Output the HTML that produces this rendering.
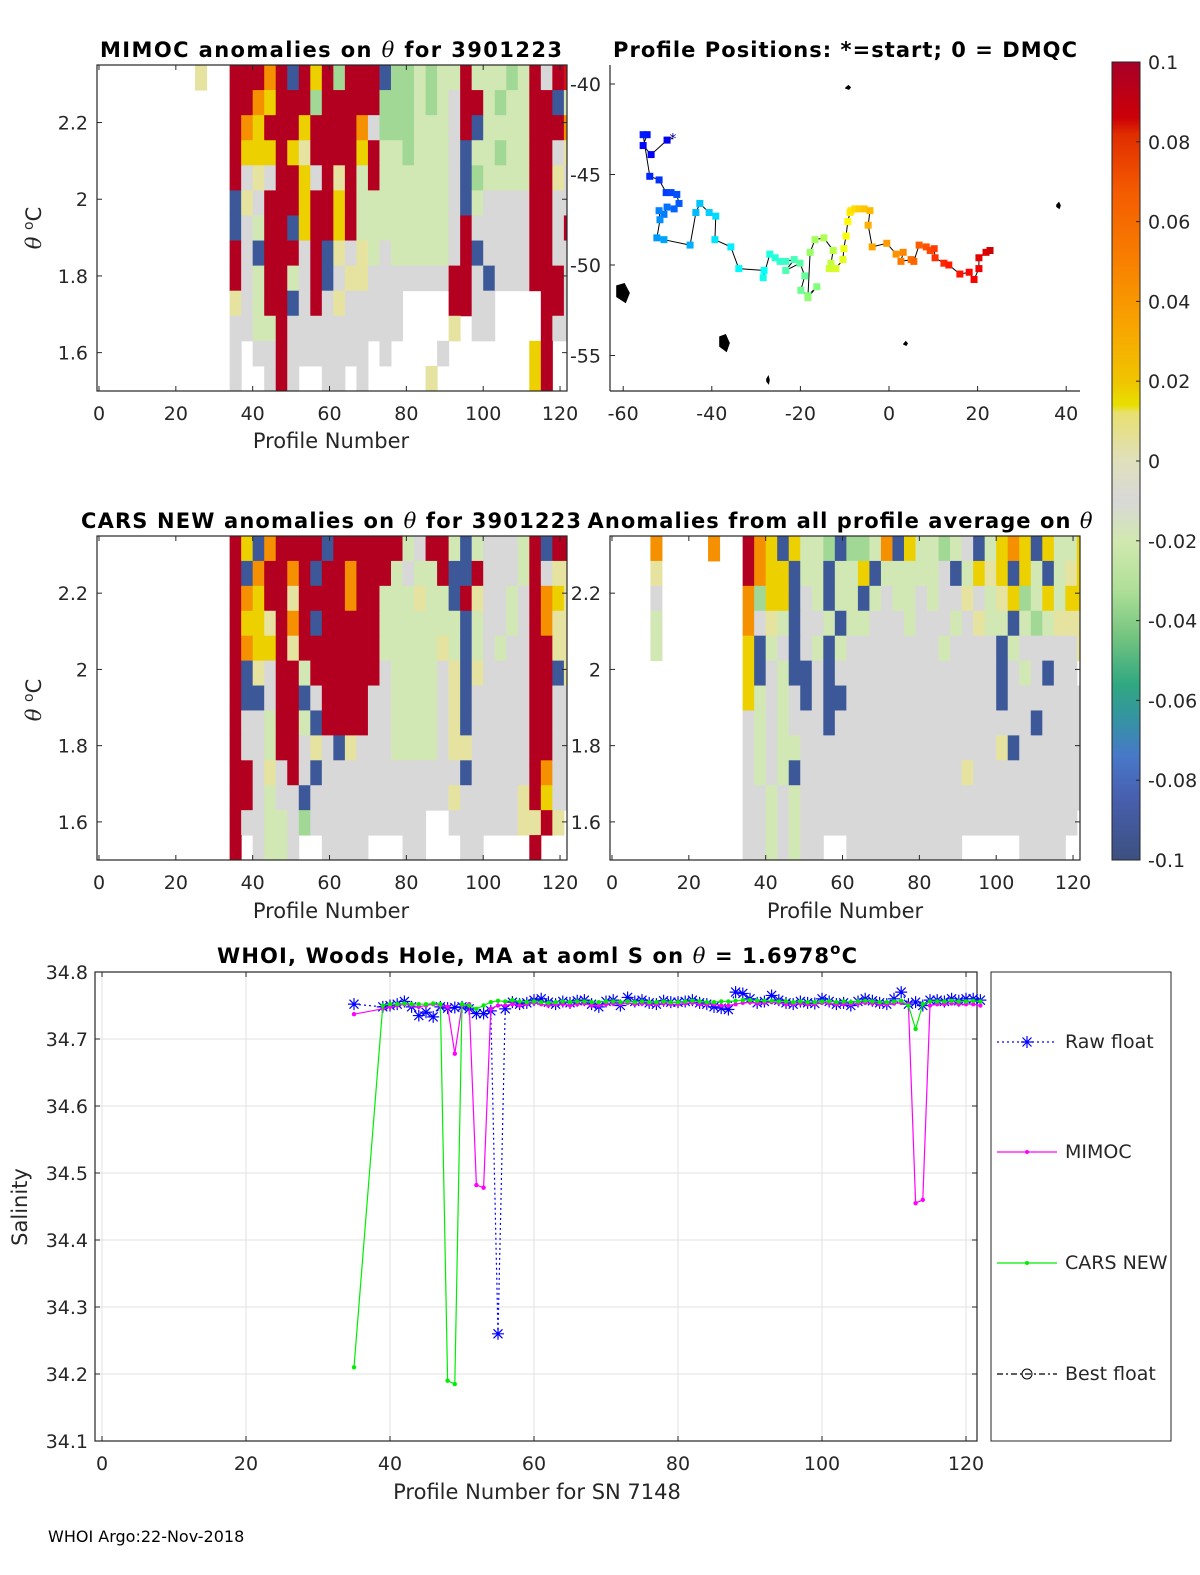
<!DOCTYPE html>
<html><head><meta charset="utf-8">
<style>
html,body{margin:0;padding:0;background:#fff;}
svg{display:block;font-family:"DejaVu Sans","Liberation Sans",sans-serif;}
.tl{font-size:19px;fill:#262626;}
.ttl{font-size:21px;font-weight:bold;fill:#000;}
.lbl{font-size:21px;fill:#262626;}
.th{font-family:"DejaVu Serif","Liberation Serif",serif;font-style:italic;}
</style></head>
<body>
<svg id="fig" width="1200" height="1575" viewBox="0 0 1200 1575" xmlns="http://www.w3.org/2000/svg">
<g id="p1"></g>
<g id="p2"></g>
<g id="p3"></g>
<g id="p4"></g>
<g id="cb"></g>
<g id="p5"></g>

<text class="ttl" x="331" y="57" text-anchor="middle" textLength="462">MIMOC anomalies on <tspan class="th" font-weight="normal">θ</tspan>  for 3901223</text>
<text class="ttl" x="845" y="57" text-anchor="middle" textLength="464">Profile Positions: *=start; 0 = DMQC</text>
<text class="ttl" x="331" y="528" text-anchor="middle" textLength="500">CARS NEW anomalies on <tspan class="th" font-weight="normal">θ</tspan> for 3901223</text>
<text class="ttl" x="840" y="528" text-anchor="middle" textLength="505">Anomalies from all profile average on <tspan class="th" font-weight="normal">θ</tspan></text>
<text class="lbl" x="331" y="448" text-anchor="middle">Profile Number</text>
<text class="lbl" x="331" y="918" text-anchor="middle">Profile Number</text>
<text class="lbl" x="845" y="918" text-anchor="middle">Profile Number</text>
<text class="lbl" transform="translate(41,228) rotate(-90)" text-anchor="middle"><tspan class="th">θ</tspan> <tspan dy="-8" font-size="14">o</tspan><tspan dy="8">C</tspan></text>
<text class="lbl" transform="translate(41,700) rotate(-90)" text-anchor="middle"><tspan class="th">θ</tspan> <tspan dy="-8" font-size="14">o</tspan><tspan dy="8">C</tspan></text>
<text class="ttl" x="537" y="963" text-anchor="middle" textLength="640">WHOI, Woods Hole, MA at aoml S on <tspan class="th" font-weight="normal">θ</tspan> = 1.6978<tspan dy="-9" font-size="15">o</tspan><tspan dy="9">C</tspan></text>
<text class="lbl" x="537" y="1499" text-anchor="middle">Profile Number for SN 7148</text>
<text class="lbl" transform="translate(27,1207) rotate(-90)" text-anchor="middle">Salinity</text>
<text x="48" y="1542" font-size="16" fill="#000">WHOI Argo:22-Nov-2018</text>
</svg>
<script>
// ---------- data ----------
const xTicks = [0,20,40,60,80,100,120];
const thetaTicks = [2.2,2.0,1.8,1.6];
const mapLonTicks = [-60,-40,-20,0,20,40];
const mapLatTicks = [-40,-45,-50,-55];
const cbTicks = [0.1,0.08,0.06,0.04,0.02,0,-0.02,-0.04,-0.06,-0.08,-0.1];
const salTicks = [34.8,34.7,34.6,34.5,34.4,34.3,34.2,34.1];
// anomaly grids: 41 columns (3 profiles each), 13 theta rows from 2.35 down to 1.5
const mimocGrid = [
"........p..RRRoRbRyRGRRRbGGlGllRlllGlRgRr",
"...........RRoyRRRGRRRRRGGGlGlgRRlGllRRbl",
"...........RoyRRRyRRRRogGGGlllgRbllllRRRo",
"...........RyyyRypRRRRyRllGlllgbllGllRRgp",
"...........RgpgRRygRpRlRllllllgbGllllRRpg",
"...........bpgRRRyRRyRllllllllgblggggRRgg",
"...........bglRRbyRRyRllllllllgRgggggRRgR",
"...........RgbRRRgRbpgplglllllgRbggggRRgg",
"...........RglRRlgRbgppgggggggRRgbgggRRRg",
"...........pglRRbgRgpggggg....RRgg....RRgg",
"...........ggllRgggggggggg....p.gg....Rggg",
"...........g.ggRggggggg.g....g.......yR..",
"...........g..gRg..gg.g.....p........yR.."];
const carsGrid = [
"...........RyboRRRRbRRRRRRlgRRlblggglRbRR",
"...........RboRRoRbRRoRRRlgllRbbRggglRgpp",
"...........RoyRRpRRRRoRRlllpllbRpgglgRoyp",
"...........RyypRoRbRRRRRlllllllblgglgRopp",
"...........RoyyRpRRRRRRRlllllplblglggRRpp",
"...........RbpgRRlRRRRRRgllllgpbpggggRRbp",
"...........RbbgRRbgRRRRggllllgpbgggggRRgg",
"...........RgglRRlbRRRRggllllgpbgggggRRgg",
"...........RgglRRgpgbpgggllllgppgggggRRgg",
"...........RRgpgRgbggggggggggggbgggggRogg",
"...........RRglggbggggggggggggpgggggpRygg",
"...........RggllgGgggggggggg..ggggggppRp.",
"...........R.gllg..gggg...gg...gg....R..."];
const avgGrid = [
"...o....o..RoybyllGbGGlobyllGlgblyoybylly",
"...p.......RoyybllbllyblllllgblypybylbIpy",
"...g.......oGyybglbllblgllglggpglpyGlylyy",
"...l.......ogplbgglbllggglggglgpllblGlppp",
"...l.......yblgbglblgggggggglggggblgggggp",
"...........ybglbbgbggggggggggggggbglgbgg",
"...........ylglgbgbbgggggggggggggbggggggg",
"...........glglgggbgggggggggggggggggbgggg",
"...........glgllgggggggggggggggggpbggggggg",
"...........glglbggggggggggggggpgggggggggg",
"...........gglglggggggggggggggggggggggggg",
"...........gglglgggggggggggggggggggggggg.",
"...........gglglgg..gggggggggg.....gggg."];
// float track (lon, lat) in profile order
const trackLon = [-48.8,-50.1,-53.7,-55.5,-54.6,-55.5,-54.0,-51.9,-50.3,-49.2,-47.9,-47.4,-48.5,-50.1,-50.8,-51.9,-51.7,-52.4,-50.8,-44.9,-43.6,-42.7,-40.6,-39.1,-39.3,-35.7,-33.9,-28.2,-28.4,-26.9,-25.7,-24.6,-23.3,-21.4,-23.3,-20.1,-19.0,-19.9,-18.3,-16.3,-18.3,-17.8,-16.7,-14.7,-12.6,-13.1,-13.5,-12.0,-10.4,-10.2,-9.7,-9.3,-8.8,-8.6,-7.7,-6.8,-5.6,-4.3,-4.7,-3.8,-0.5,1.6,3.2,2.7,5.0,5.6,6.8,8.4,9.3,10.2,10.4,12.4,13.5,16.0,18.1,19.2,20.3,20.3,21.9,22.8];
const trackLat = [-43.0,-43.1,-43.9,-43.4,-42.8,-42.8,-45.1,-45.3,-46.0,-46.0,-46.1,-46.6,-46.9,-46.8,-47.2,-47.0,-47.5,-48.5,-48.6,-48.9,-47.1,-46.6,-47.1,-47.3,-48.6,-49.0,-50.2,-50.3,-50.7,-49.4,-49.6,-49.8,-49.8,-49.7,-50.3,-49.9,-50.6,-51.4,-51.7,-51.2,-51.8,-49.3,-48.6,-48.5,-49.2,-49.9,-50.2,-50.2,-49.7,-49.1,-48.4,-47.6,-47.1,-47.0,-46.9,-46.9,-46.9,-47.0,-47.8,-49.0,-48.8,-49.4,-49.3,-49.8,-49.7,-49.8,-48.9,-49.0,-49.2,-49.1,-49.6,-49.9,-50.0,-50.5,-50.4,-50.8,-50.2,-49.6,-49.3,-49.2];
// salinity series
const profiles = [35,39,40,41,42,43,44,45,46,47,48,49,50,51,52,53,54,55,56,57,58,59,60,61,62,63,64,65,66,67,68,69,70,71,72,73,74,75,76,77,78,79,80,81,82,83,84,85,86,87,88,89,90,91,92,93,94,95,96,97,98,99,100,101,102,103,104,105,106,107,108,109,110,111,112,113,114,115,116,117,118,119,120,121,122];
const rawS = [34.752,34.748,34.750,34.752,34.756,34.748,34.735,34.740,34.733,34.748,34.746,34.747,34.748,34.745,34.738,34.738,34.742,34.260,34.745,34.755,34.752,34.754,34.758,34.760,34.755,34.752,34.756,34.754,34.757,34.758,34.752,34.748,34.756,34.758,34.750,34.762,34.756,34.758,34.754,34.752,34.757,34.755,34.755,34.756,34.758,34.754,34.752,34.748,34.746,34.744,34.770,34.768,34.760,34.754,34.756,34.765,34.758,34.754,34.752,34.756,34.754,34.753,34.760,34.756,34.752,34.754,34.750,34.756,34.760,34.757,34.754,34.752,34.760,34.770,34.752,34.755,34.750,34.758,34.758,34.756,34.760,34.757,34.760,34.760,34.758];
const mimocS = [34.737,34.745,34.748,34.750,34.752,34.750,34.748,34.750,34.752,34.750,34.748,34.678,34.750,34.752,34.482,34.478,34.745,34.750,34.750,34.752,34.750,34.752,34.754,34.752,34.750,34.752,34.752,34.750,34.752,34.753,34.750,34.750,34.752,34.753,34.752,34.754,34.752,34.753,34.752,34.752,34.753,34.752,34.752,34.753,34.754,34.752,34.752,34.752,34.750,34.750,34.752,34.754,34.755,34.753,34.754,34.755,34.754,34.752,34.752,34.753,34.752,34.752,34.754,34.753,34.752,34.752,34.752,34.753,34.754,34.753,34.752,34.752,34.753,34.754,34.752,34.455,34.460,34.750,34.752,34.752,34.753,34.752,34.752,34.752,34.750];
const carsS = [34.210,34.750,34.752,34.752,34.753,34.752,34.752,34.752,34.753,34.752,34.190,34.185,34.752,34.750,34.745,34.750,34.755,34.757,34.756,34.758,34.756,34.755,34.756,34.755,34.754,34.755,34.756,34.755,34.756,34.756,34.755,34.755,34.756,34.756,34.755,34.756,34.755,34.756,34.755,34.755,34.756,34.755,34.755,34.756,34.757,34.756,34.755,34.755,34.756,34.756,34.757,34.758,34.758,34.757,34.757,34.757,34.756,34.756,34.755,34.756,34.755,34.755,34.756,34.756,34.755,34.756,34.755,34.756,34.757,34.756,34.755,34.755,34.756,34.757,34.750,34.715,34.752,34.756,34.756,34.756,34.757,34.756,34.756,34.757,34.756];

// ---------- helpers ----------
const NS = "http://www.w3.org/2000/svg";
function mk(tag, parent, attrs){ const e=document.createElementNS(NS,tag); for(const k in attrs) e.setAttribute(k,attrs[k]); parent.appendChild(e); return e; }
const palette = {R:"#b30020",r:"#d81010",o:"#f59000",y:"#ecd000",p:"#e6e3a0",g:"#d8d8d8",l:"#d2e8b4",G:"#a2d896",b:"#3c5898",c:"#5a84c8",I:"#d2e8b4"};

function heatPanel(g, L, T, R, B, grid, name){
  const xOf = p => L + 2 + p*3.842;
  const rows = grid.length, rh = (B-T)/rows;
  grid.forEach((row, ri) => {
    for (let ci=0; ci<row.length && ci<41; ci++){
      const ch=row[ci]; if(ch==='.'||!palette[ch]) continue;
      const x0=Math.max(L,xOf(ci*3+1)), x1=Math.min(R,xOf(ci*3+4));
      if(x1<=x0) continue;
      const c = mk('rect', g, {x:x0, y:T+ri*rh, width:x1-x0+0.5, height:rh+0.5, fill:palette[ch]});
      
      
    }
  });
}
function thetaY(T,B){ return t => T + (2.35 - t)/(0.85)*(B-T); }
function frame(g, L, T, R, B, name){
  const f = mk('rect', g, {x:L,y:T,width:R-L,height:B-T,fill:'none',stroke:'#262626','stroke-width':1.2});
  
  
}
function profAxis(g, L, T, R, B, leftLabels, labelX){
  const xOf = p => L + 2 + p*3.842;
  xTicks.forEach(v=>{
    const x=xOf(v);
    mk('line', g, {x1:x,x2:x,y1:B,y2:B-5,stroke:'#262626'});
    mk('line', g, {x1:x,x2:x,y1:T,y2:T+5,stroke:'#262626'});
    const t=mk('text', g, {x:x,y:B+29,'text-anchor':'middle',class:'tl'}); t.textContent=v;
    
    
  });
  const yOf = thetaY(T,B);
  thetaTicks.forEach(v=>{
    const y=yOf(v);
    mk('line', g, {x1:L,x2:L+5,y1:y,y2:y,stroke:'#262626'});
    mk('line', g, {x1:R,x2:R-5,y1:y,y2:y,stroke:'#262626'});
    if(leftLabels){
      const t=mk('text', g, {x:labelX,y:y+7,'text-anchor':'end',class:'tl'}); t.textContent=(v===2?'2':v.toFixed(1));
      
      
    }
  });
}

// ---------- panels 1,3,4 ----------
const p1=document.getElementById('p1'), p3=document.getElementById('p3'), p4=document.getElementById('p4');
heatPanel(p1,97,65,567,391,mimocGrid,'mimoc');
frame(p1,97,65,567,391,'mimoc'); profAxis(p1,97,65,567,391,true,88);
heatPanel(p3,97,536,567,860,carsGrid,'cars');
frame(p3,97,536,567,860,'cars'); profAxis(p3,97,536,567,860,true,88);
heatPanel(p4,610,536,1080,860,avgGrid,'average');
frame(p4,610,536,1080,860,'average'); profAxis(p4,610,536,1080,860,true,601);

// ---------- map ----------
const p2=document.getElementById('p2');
const lonX = lon => 889 + lon*4.43;
const latY = lat => 84 + (-40 - lat)*18.1;
mk('line',p2,{x1:610,y1:65,x2:610,y2:391,stroke:'#262626','stroke-width':1.2});
mk('line',p2,{x1:610,y1:391,x2:1080,y2:391,stroke:'#262626','stroke-width':1.2});
mapLonTicks.forEach(v=>{const x=lonX(v); mk('line',p2,{x1:x,x2:x,y1:391,y2:386,stroke:'#262626'});
  const t=mk('text',p2,{x:x,y:420,'text-anchor':'middle',class:'tl'}); t.textContent=v;
  
  });
mapLatTicks.forEach(v=>{const y=latY(v); mk('line',p2,{x1:610,x2:615,y1:y,y2:y,stroke:'#262626'});
  const t=mk('text',p2,{x:601,y:y+7,'text-anchor':'end',class:'tl'}); t.textContent=v;
  
  });
// coastline fragments
[[617,286,12,18],[720,337,9,16],[846,88,4,3],[1057,205,3,5],[904,344,3,3],[767,379,2,6]].forEach(b=>{
  const e=mk('path',p2,{d:`M${b[0]},${b[1]} l${b[2]*0.6},${-2} l${b[2]*0.4},${b[3]*0.5} l${-b[2]*0.3},${b[3]*0.5} l${-b[2]*0.7},${-b[3]*0.3} z`,fill:'#000',stroke:'#000','stroke-width':1.6});
  
  
});
let d='';
trackLon.forEach((lo,i)=>{ d+=(i?'L':'M')+lonX(lo).toFixed(1)+','+latY(trackLat[i]).toFixed(1); });
const trk=mk('path',p2,{d:d,fill:'none',stroke:'#000','stroke-width':1});


function jet(t){ const r=Math.min(1,Math.max(0,1.5-Math.abs(4*t-3))), g=Math.min(1,Math.max(0,1.5-Math.abs(4*t-2))), b=Math.min(1,Math.max(0,1.5-Math.abs(4*t-1))); return `rgb(${Math.round(r*255)},${Math.round(g*255)},${Math.round(b*255)})`; }
trackLon.forEach((lo,i)=>{
  if(i===0) return;
  const t=0.1+0.82*i/(trackLon.length-1);
  const s=mk('rect',p2,{x:lonX(lo)-3.5,y:latY(trackLat[i])-3.5,width:7,height:7,fill:jet(t)});
  
  
});
const st=mk('text',p2,{x:lonX(trackLon[0]),y:latY(trackLat[0])+5,'text-anchor':'middle','font-size':14,fill:'#00008f'}); st.textContent='*';



// ---------- colorbar ----------
const cb=document.getElementById('cb');
const defs=mk('defs',cb,{}); const lg=mk('linearGradient',defs,{id:'cbg',x1:0,y1:0,x2:0,y2:1});
[[0,'#a80028'],[0.07,'#cc0008'],[0.09,'#e02c00'],[0.16,'#f45a00'],[0.25,'#f88000'],[0.33,'#f8a400'],[0.4,'#f0c400'],[0.43,'#e8e000'],[0.44,'#e8e070'],[0.5,'#e0e0bc'],[0.55,'#d8d8d8'],[0.6,'#d2e8b0'],[0.66,'#b0e098'],[0.72,'#74c480'],[0.78,'#30a880'],[0.83,'#3690a8'],[0.87,'#4878c8'],[0.92,'#4860b0'],[1,'#3c5080']].forEach(s=>mk('stop',lg,{offset:s[0],'stop-color':s[1]}));
const cbr=mk('rect',cb,{x:1112,y:62,width:28,height:798,fill:'url(#cbg)',stroke:'#262626','stroke-width':1});


cbTicks.forEach(v=>{ const y=62+(0.1-v)/0.2*798;
  mk('line',cb,{x1:1136,x2:1140,y1:y,y2:y,stroke:'#262626'});
  const t=mk('text',cb,{x:1148,y:y+7,class:'tl'}); t.textContent=(v===0?'0':String(v));
  
  });

// ---------- salinity chart ----------
const p5=document.getElementById('p5');
const sx = p => 102 + p*7.2;
const sy = s => 972 + (34.8 - s)*670;
mk('rect',p5,{x:95,y:972,width:882,height:469,fill:'#fff'});
xTicks.forEach(v=>{ const x=sx(v);
  mk('line',p5,{x1:x,x2:x,y1:972,y2:1441,stroke:'#e2e2e2'});
  mk('line',p5,{x1:x,x2:x,y1:1441,y2:1436,stroke:'#262626'});
  mk('line',p5,{x1:x,x2:x,y1:972,y2:977,stroke:'#262626'});
  const t=mk('text',p5,{x:x,y:1470,'text-anchor':'middle',class:'tl'}); t.textContent=v;
  
  });
salTicks.forEach(v=>{ const y=sy(v);
  mk('line',p5,{x1:95,x2:977,y1:y,y2:y,stroke:'#e2e2e2'});
  mk('line',p5,{x1:95,x2:100,y1:y,y2:y,stroke:'#262626'});
  mk('line',p5,{x1:977,x2:972,y1:y,y2:y,stroke:'#262626'});
  const t=mk('text',p5,{x:88,y:y+7,'text-anchor':'end',class:'tl'}); t.textContent=v.toFixed(1);
  
  });
mk('rect',p5,{x:95,y:972,width:882,height:469,fill:'none',stroke:'#262626','stroke-width':1.2});
function series(vals,color,name,dash,marker){
  let dd=''; profiles.forEach((p,i)=>{dd+=(i?'L':'M')+sx(p).toFixed(1)+','+sy(vals[i]).toFixed(1);});
  const l=mk('path',p5,{d:dd,fill:'none',stroke:color,'stroke-width':1.2,'stroke-dasharray':dash||'none'});
  
  
  profiles.forEach((p,i)=>{ const x=sx(p), y=sy(vals[i]);
    let m;
    if(marker==='star'){ m=mk('path',p5,{d:`M${x-6},${y}h12M${x},${y-6}v12M${x-4.5},${y-4.5}l9,9M${x-4.5},${y+4.5}l9,-9`,stroke:color,'stroke-width':1.2}); }
    else { m=mk('circle',p5,{cx:x,cy:y,r:2.2,fill:color}); }
    
    
  });
}
series(rawS,'#0000ff','raw-float','2,3','star');
series(mimocS,'#ff00ff','mimoc','', 'dot');
series(carsS,'#00ee00','cars-new','', 'dot');

// legend
const lgG=mk('g',p5,{});


mk('rect',lgG,{x:991,y:972,width:180,height:469,fill:'#fff',stroke:'#262626','stroke-width':1});
const legNames=['Raw float','MIMOC','CARS NEW','Best float'];
const legCols=['#0000ff','#ff00ff','#00ee00','#000'];
const legY=[1042,1152,1263,1374];
legNames.forEach((n,i)=>{
  const y=legY[i], c=legCols[i];
  const dash = i===0?'2,3':(i===3?'6,3,2,3':'none');
  mk('line',lgG,{x1:997,x2:1057,y1:y,y2:y,stroke:c,'stroke-width':1.2,'stroke-dasharray':dash});
  if(i===0) mk('path',lgG,{d:`M1021,${y}h12M1027,${y-6}v12M1022.5,${y-4.5}l9,9M1022.5,${y+4.5}l9,-9`,stroke:c,'stroke-width':1.2});
  else if(i===3) mk('circle',lgG,{cx:1027,cy:y,r:5,fill:'none',stroke:c});
  else mk('circle',lgG,{cx:1027,cy:y,r:2,fill:c});
  const t=mk('text',lgG,{x:1065,y:y+6,class:'tl'}); t.textContent=n;
  
  
});
</script>
</body></html>
